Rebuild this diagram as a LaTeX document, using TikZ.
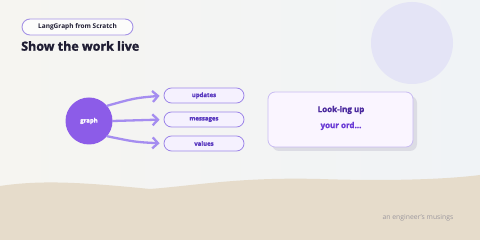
\documentclass[tikz,border=0pt]{standalone}
\usepackage{fontspec}
\setmainfont{Open Sans}
\newfontfamily\heavyfont[BoldFeatures={FakeBold=1.6}]{Open Sans}
\usepackage{tikz}
\usetikzlibrary{positioning, calc, arrows.meta}

\definecolor{bgleft}{HTML}{F6F5F1}
\definecolor{bgright}{HTML}{F0F3F6}
\definecolor{pillline}{HTML}{A593E6}
\definecolor{titleink}{HTML}{1F1D33}
\definecolor{decofill}{HTML}{E4E4F6}
\definecolor{graphfill}{HTML}{8C5CE8}
\definecolor{flowline}{HTML}{A58DF0}
\definecolor{outfill}{HTML}{F5F1FE}
\definecolor{outline}{HTML}{9D86E8}
\definecolor{outink}{HTML}{5A39C0}
\definecolor{cardfill}{HTML}{FAF5FF}
\definecolor{cardline}{HTML}{C9BCF2}
\definecolor{cardshadow}{HTML}{DCDCE4}
\definecolor{cardinkA}{HTML}{4B2A9E}
\definecolor{cardinkB}{HTML}{6B3BD6}
\definecolor{sand}{HTML}{E6DCCB}
\definecolor{footink}{HTML}{9C989E}

\begin{document}
\begin{tikzpicture}[x=1pt,y=-1pt,
    pill/.style={draw=pillline, line width=0.9pt, fill=white!70!bgleft, rounded corners=8pt,
        minimum width=111pt, minimum height=16pt, inner sep=0pt,
        font=\fontsize{6.5}{7}\selectfont\bfseries, text=titleink},
    outbox/.style={draw=outline, line width=0.8pt, fill=outfill, rounded corners=7.5pt,
        minimum width=80pt, minimum height=15pt, inner sep=0pt,
        font=\heavyfont\fontsize{6}{7}\selectfont\bfseries, text=outink},
    flow/.style={draw=flowline, line width=2.3pt, line cap=round,
        -{Straight Barb[length=5.5pt,width=11pt,line width=2.3pt]}, shorten >=4pt}]

    % Background
    \useasboundingbox (0,0) rectangle (480,240);
    \shade[left color=bgleft, right color=bgright] (0,0) rectangle (480,240);
    \fill[decofill] (412,43) circle (41);

    % Sand wave
    \fill[sand] (0,186) .. controls (40,180) and (80,182) .. (150,189)
        .. controls (200,185) and (240,177) .. (320,179)
        .. controls (380,181) and (440,180) .. (480,175)
        -- (480,240) -- (0,240) -- cycle;

    % Header
    \node[pill] (tag) at (77.5,27) {LangGraph from Scratch};
    \node[anchor=west, inner sep=0pt, text=titleink,
        font=\heavyfont\fontsize{12.5}{13}\selectfont\bfseries] (title) at (21,46) {Show the work live};

    % Graph and its outputs
    \node[circle, fill=graphfill, minimum size=47pt, inner sep=0pt, text=white,
        font=\heavyfont\fontsize{6}{7}\selectfont\bfseries] (graph) at (89,121) {graph};
    \node[outbox] (updates) at (204,95.5) {updates};
    \node[outbox] (messages) at (204,119.5) {messages};
    \node[outbox] (values) at (204,143.5) {values};

    \draw[flow] (graph.40) .. controls (135,98) .. (updates.west);
    \draw[flow] (graph.east) -- (messages.west);
    \draw[flow] (graph.-40) .. controls (135,142) .. (values.west);

    % Status card
    \fill[cardshadow, rounded corners=7pt] (272,96) rectangle (417,151);
    \node[draw=cardline, line width=0.8pt, fill=cardfill, rounded corners=7pt,
        minimum width=145pt, minimum height=55pt, inner sep=0pt] (card) at (340.5,119.5) {};
    \node[text=cardinkA, font=\heavyfont\fontsize{8}{9}\selectfont\bfseries] (lineA) at (341,110) {Look-ing up};
    \node[text=cardinkB, font=\heavyfont\fontsize{8}{9}\selectfont\bfseries] (lineB) at (341,126) {your ord...};

    % Footer
    \node[text=footink, font=\fontsize{6.8}{7}\selectfont] (footer) at (418,218) {an engineer's musings};
\end{tikzpicture}
\end{document}
